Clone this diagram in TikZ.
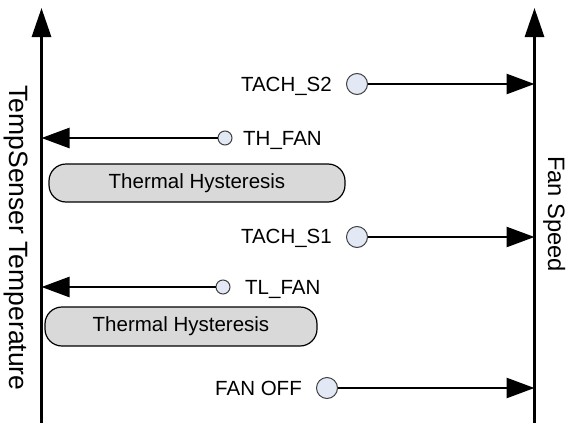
\documentclass[tikz,border=0pt]{standalone}
\usepackage{fontspec}
\setmainfont{Liberation Sans}
\usetikzlibrary{arrows.meta}
\definecolor{dotfill}{HTML}{E3E9F4}
\definecolor{dotline}{HTML}{404040}
\definecolor{boxfill}{HTML}{D9D9D9}
\begin{document}
\begin{tikzpicture}[x=1pt,y=-1pt,
  lbl/.style={inner sep=0pt, font=\fontsize{20.5}{24}\selectfont},
  axis/.style={line width=3pt, -{Triangle[length=29pt,width=19pt]}},
  conn/.style={line width=2.6pt, -{Triangle[length=28pt,width=20pt]}},
  bigdot/.style={circle, draw=dotline, fill=dotfill, line width=1pt, minimum size=21pt, inner sep=0pt},
  smalldot/.style={circle, draw=dotline, fill=dotfill, line width=1pt, minimum size=14pt, inner sep=0pt},
  hyst/.style={draw=black, fill=boxfill, line width=1.2pt, rounded corners=17pt, inner sep=0pt, font=\fontsize{20.5}{24}\selectfont}]
\useasboundingbox (0,0) rectangle (570,423);
% axes
\coordinate (Lb) at (41.5,423); \coordinate (Lt) at (41.5,8);
\coordinate (Rb) at (534.5,423); \coordinate (Rt) at (534.5,8);
\draw[axis] (Lb) -- (Lt);
\draw[axis] (Rb) -- (Rt);
% axis labels
\node[rotate=-90, anchor=base, inner sep=0pt, font=\fontsize{26.5}{30}\selectfont] (ylab) at (9.5,238) {TempSenser Temperature};
\node[rotate=-90, anchor=base, inner sep=0pt, font=\fontsize{23.7}{28}\selectfont] (flab) at (548,214) {Fan Speed};
% TACH_S2
\node[bigdot] (c2) at (357,84) {};
\node[lbl, anchor=base east] (t2) at (332,91) {TACH\_S2};
\draw[conn] (c2.east) -- (c2 -| Rt);
% TH_FAN
\node[smalldot] (th) at (225,138) {};
\node[lbl, anchor=base west] (tth) at (243,145) {TH\_FAN};
\draw[conn] (th.west) -- (th -| Lt);
% Hysteresis 1
\node[hyst, minimum width=296pt, minimum height=38pt] (h1) at (197,183) {Thermal Hysteresis};
% TACH_S1
\node[bigdot] (c1) at (357,237) {};
\node[lbl, anchor=base east] (t1) at (332,243) {TACH\_S1};
\draw[conn] (c1.east) -- (c1 -| Rt);
% TL_FAN
\node[smalldot] (tl) at (223,287) {};
\node[lbl, anchor=base west] (ttl) at (245,294) {TL\_FAN};
\draw[conn] (tl.west) -- (tl -| Lt);
% Hysteresis 2
\node[hyst, minimum width=272pt, minimum height=39pt] (h2) at (181,326.5) {Thermal Hysteresis};
% FAN OFF
\node[bigdot] (c0) at (327,388) {};
\node[lbl, anchor=base east] (t0) at (302,395) {FAN OFF};
\draw[conn] (c0.east) -- (c0 -| Rt);
\end{tikzpicture}
\end{document}
